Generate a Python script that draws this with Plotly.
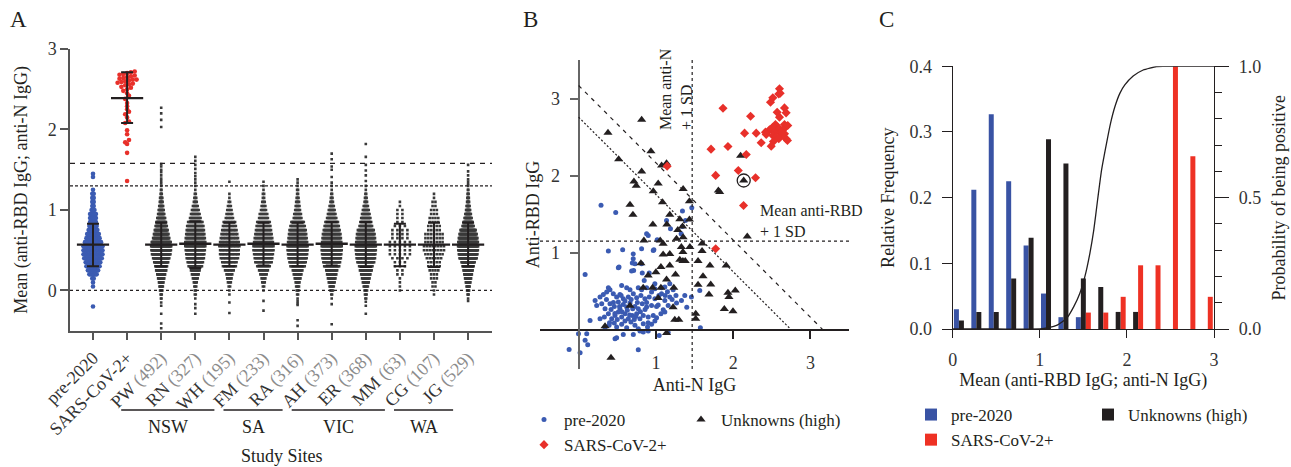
import plotly.graph_objects as go

W, H = 1291, 467
FONT = "Liberation Serif"
INK = "#231f20"
AXC = "#555555"
BLUE = "#3b5bb2"
RED = "#e8302a"
BAR_BLUE = "#3953a4"
BAR_RED = "#ee3124"
GRAY_TXT = "#8c8c8c"

# ---------------- Panel A data ----------------
A_LABELS = ["pre-2020", "SARS-CoV-2+", "PW", "RN", "WH", "FM", "RA", "AH", "ER", "MM", "CG", "JG"]
A_N_LABEL = ["", "", "492", "327", "195", "233", "316", "373", "368", "63", "107", "529"]
A_STATES = ["NSW", "SA", "VIC", "WA"]
A_STATE_FIRST = ["PW", "FM", "AH", "CG"]
A_STATE_LAST = ["WH", "RA", "MM", "JG"]
A_YTITLE = "Mean (anti-RBD IgG; anti-N IgG)"

# binned counts: bins start at -0.10, width 0.05 (28 bins, up to 1.25) + individual tail values
CORE_START = -0.10
CORE_STEP = 0.05
PRE2020_CORE = [0, 0, 0, 1, 1, 2, 6, 8, 10, 11, 13, 14, 14, 14, 12, 10, 9, 7, 6, 5, 5, 5, 3, 2, 2, 2, 2, 1]
PRE2020_OUT = [-0.20, 1.41, 1.45]
SARS_VALUES = [1.36, 1.71, 1.82, 1.84, 1.87, 1.94, 1.99, 2.08, 2.10, 2.15, 2.19, 2.22, 2.25, 2.29,
               2.33, 2.38, 2.42, 2.45, 2.48, 2.50, 2.52, 2.53, 2.55, 2.56, 2.57, 2.58, 2.59, 2.60,
               2.61, 2.62, 2.62, 2.63, 2.64, 2.65, 2.66, 2.67, 2.68, 2.69, 2.70, 2.71, 2.72]
PW_CORE = [2, 3, 5, 7, 9, 12, 15, 19, 22, 26, 30, 34, 36, 37, 35, 30, 27, 24, 21, 18, 15, 12, 10, 8, 6, 5, 3, 2]
PW_OUT = [-0.47, -0.41, -0.29, -0.19, -0.15, 1.30, 1.33, 1.36, 1.39, 1.43, 1.47, 1.50, 1.54, 1.57,
          2.03, 2.12, 2.20, 2.27]
RN_CORE = [1, 2, 2, 3, 4, 6, 8, 10, 15, 17, 19, 20, 21, 22, 22, 21, 20, 19, 18, 16, 12, 10, 8, 6, 4, 3, 2, 1]
RN_OUT = [-0.29, -0.22, -0.17, 1.30, 1.34, 1.38, 1.42, 1.46, 1.51, 1.56, 1.61, 1.66]
WH_CORE = [0, 1, 1, 2, 3, 4, 5, 7, 10, 11, 13, 14, 14, 15, 14, 13, 12, 11, 10, 9, 6, 5, 4, 3, 2, 1, 1, 0]
WH_OUT = [-0.28, -0.15, 1.35]
FM_CORE = [0, 0, 1, 2, 3, 4, 6, 8, 11, 14, 15, 16, 17, 17, 16, 15, 14, 13, 12, 11, 8, 7, 5, 4, 3, 2, 2, 1]
FM_OUT = [-0.25, -0.13, 1.30, 1.35]
RA_CORE = [1, 2, 3, 4, 5, 7, 9, 11, 16, 18, 20, 21, 22, 22, 21, 20, 19, 18, 16, 14, 9, 8, 6, 5, 4, 3, 2, 2]
RA_OUT = [-0.44, -0.37, -0.18, -0.16, -0.13, 1.30, 1.34, 1.38]
AH_CORE = [1, 2, 4, 6, 8, 10, 12, 14, 19, 21, 23, 24, 25, 25, 24, 23, 22, 20, 18, 16, 12, 10, 8, 6, 4, 3, 2, 1]
AH_OUT = [-0.42, -0.17, 1.30, 1.34, 1.41, 1.50, 1.54, 1.63, 1.70]
ER_CORE = [2, 3, 4, 6, 8, 10, 12, 15, 17, 21, 23, 24, 25, 25, 24, 23, 22, 20, 16, 14, 12, 10, 8, 6, 4, 3, 2, 1]
ER_OUT = [-0.29, -0.19, -0.14, 1.30, 1.36, 1.43, 1.49, 1.56, 1.66, 1.82]
MM_CORE = [0, 0, 1, 1, 1, 1, 2, 2, 3, 3, 4, 5, 5, 5, 5, 4, 4, 4, 3, 2, 2, 2, 2, 1, 1, 0, 0, 0]
MM_OUT = []
CG_CORE = [0, 1, 1, 2, 2, 3, 3, 4, 5, 5, 6, 7, 8, 8, 7, 7, 7, 5, 5, 4, 4, 3, 3, 2, 2, 1, 1, 0]
CG_OUT = []
JG_CORE = [1, 3, 5, 7, 10, 13, 16, 19, 23, 27, 35, 38, 40, 41, 40, 38, 35, 31, 23, 19, 15, 12, 9, 7, 5, 4, 3, 2]
JG_OUT = [-0.13, 1.30, 1.32, 1.35, 1.38, 1.43, 1.48, 1.56]

A_MEAN = [0.57, 2.39, 0.57, 0.58, 0.57, 0.58, 0.57, 0.58, 0.57, 0.57, 0.57, 0.57]
A_SD_LO = [0.30, 2.08, 0.30, 0.28, 0.30, 0.31, 0.30, 0.31, 0.29, 0.30, 0.29, 0.30]
A_SD_HI = [0.83, 2.71, 0.84, 0.86, 0.84, 0.84, 0.84, 0.85, 0.85, 0.83, 0.84, 0.84]
A_CUT_LOW = 1.30
A_CUT_HIGH = 1.58

# ---------------- Panel B data ----------------
B_PRE_X = [0.29, 0.48, 1.344, 1.465, 1.383, 1.138, 1.189, 1.327, 1.344, 0.901, 1.017, 0.974, 0.815, 0.707,
           0.385, 0.57, 0.88, 0.084, 0.523, 0.729, 0.707, 0.966, 0.695, 0.712, 0.686, 0.815, 0.824, 0.914,
           0.849, 0.987, 1.116, 1.18, 0.944, 1.073, 1.374, 1.46, 1.331, 1.568, 1.576, 0.514,
           0.385, 0.406, 0.363, 0.557, 0.622, 0.665, 0.772, 0.815, 0.88, 0.987, 1.073, 1.15, 1.224,
           0.213, 0.277, 0.32, 0.449, 0.492, 0.535, 0.578, 0.643, 0.708, 0.751, 0.806, 0.858, 0.914, 0.987,
           1.039, 1.116, 1.18, 1.26,
           0.234, 0.299, 0.342, 0.406, 0.462, 0.514, 0.535, 0.578, 0.622, 0.665, 0.729, 0.772, 0.824, 0.88,
           0.944, 1.009, 1.095, 1.159, 1.267, 1.40,
           0.148, 0.277, 0.333, 0.385, 0.428, 0.471, 0.514, 0.557, 0.6, 0.643, 0.695, 0.751, 0.794, 0.837,
           0.901, 0.966, 1.009, 1.065, 1.116,
           0.342, 0.394, 0.462, 0.492, 0.557, 0.622, 0.677, 0.729, 0.772, 0.837, 0.892, 0.944, 0.987, 0.794,
           0.837, 0.901,
           -0.002, 0.105, 0.084, 0.118, -0.123, 0.019, 0.471, 0.492, 0.578, 0.708, 0.772, 1.043, 1.159,
           0.36, 0.42, 0.45, 0.50, 0.53, 0.56, 0.60, 0.63, 0.66, 0.70, 0.72, 0.76, 0.80, 0.86, 0.90, 0.60,
           0.68, 0.55, 0.47, 0.74, 0.40, 0.88, 1.03, 1.12, 1.21]
B_PRE_Y = [1.62, 1.527, 1.544, 1.587, 1.423, 1.423, 1.315, 1.25, 1.345, 1.229, 1.173, 1.044, 1.056, 0.99,
           1.026, 1.044, 1.25, 0.724, 0.82, 0.862, 0.927, 1.035, 0.871, 0.776, 0.768, 0.862, 0.742, 0.742,
           0.647, 0.604, 0.56, 0.604, 0.496, 0.474, 0.453, 0.431, 0.388, 0.517, 0.034, 0.81,
           0.552, 0.526, 0.496, 0.582, 0.552, 0.526, 0.552, 0.526, 0.552, 0.539, 0.552, 0.50, 0.526,
           0.388, 0.431, 0.466, 0.474, 0.431, 0.466, 0.41, 0.431, 0.474, 0.423, 0.453, 0.41, 0.431, 0.41,
           0.453, 0.388, 0.431, 0.45,
           0.323, 0.345, 0.28, 0.345, 0.31, 0.367, 0.28, 0.336, 0.302, 0.354, 0.31, 0.28, 0.345, 0.302,
           0.323, 0.31, 0.267, 0.323, 0.354, 0.30,
           0.129, 0.151, 0.172, 0.216, 0.151, 0.194, 0.237, 0.172, 0.216, 0.151, 0.194, 0.216, 0.151, 0.194,
           0.172, 0.194, 0.164, 0.216, 0.237,
           0.034, 0.065, 0.095, 0.043, 0.078, 0.034, 0.108, 0.065, 0.022, 0.086, 0.043, 0.078, 0.121, -0.009,
           -0.022, -0.009,
           -0.043, -0.043, -0.129, -0.185, -0.246, -0.289, -0.108, -0.095, -0.052, -0.052, -0.25, -0.065, -0.026,
           0.40, 0.27, 0.36, 0.14, 0.31, 0.24, 0.12, 0.26, 0.20, 0.28, 0.14, 0.36, 0.24, 0.27, 0.10, 0.38,
           0.40, 0.45, 0.22, 0.18, 0.10, 0.36, 0.33, 0.45, 0.40]
B_POS_X = [2.60, 2.609, 2.591, 2.514, 2.484, 1.869, 2.665, 2.686, 2.57, 2.226, 2.60, 2.548, 2.565, 2.514,
           2.493, 2.471, 2.578, 2.60, 2.665, 2.686, 2.707, 2.643, 2.621, 2.535, 2.419, 2.428, 2.514, 2.557,
           2.60, 2.665, 2.686, 2.703, 2.591, 2.522, 2.363, 2.493, 2.299, 2.148, 1.933, 1.714, 2.17, 2.067,
           2.29, 1.774, 2.135, 1.146, 1.774]
B_POS_Y = [3.127, 3.07, 3.06, 3.01, 2.953, 2.876, 2.88, 2.816, 2.824, 2.772, 2.76, 2.665, 2.639, 2.63,
           2.609, 2.596, 2.587, 2.609, 2.665, 2.639, 2.652, 2.596, 2.566, 2.566, 2.566, 2.536, 2.523, 2.501,
           2.501, 2.544, 2.48, 2.458, 2.48, 2.445, 2.428, 2.385, 2.553, 2.553, 2.38, 2.346, 2.277, 2.07,
           1.976, 2.006, 1.617, 2.126, 1.057]
B_UNK_X = [0.816, 0.38, 0.936, 0.518, 1.074, 1.138, 0.816, 0.716, 0.746, 1.03, 0.966, 1.353, 1.434, 1.086,
           0.665, 0.703, 1.18, 1.31, 1.434, 1.345, 0.961, 1.142, 1.284, 1.353, 0.845, 1.056, 1.094, 1.267,
           1.44, 1.33, 1.598, 2.183, 1.094, 1.18, 1.35, 1.31, 1.35, 1.38, 1.546, 1.598, 0.806, 1.18, 1.065,
           1.70, 1.91, 1.0, 0.90, 1.254, 1.138, 1.61, 0.836, 0.957, 1.065, 1.232, 1.546, 1.71, 1.688, 1.933,
           1.946, 2.028, 1.03, 1.223, 0.665, 1.516, 1.886, 1.998, 1.245, 1.297, 1.516, 0.342, 1.138, 0.419,
           2.097, 2.137, 1.809, 1.826]
B_UNK_Y = [2.725, 2.557, 2.32, 2.216, 2.135, 2.165, 2.057, 1.928, 1.872, 1.90, 1.80, 1.83, 1.67, 1.66,
           1.626, 1.497, 1.497, 1.44, 1.436, 1.345, 1.371, 1.371, 1.30, 1.207, 1.164, 1.164, 1.12, 1.186,
           1.08, 1.078, 1.125, 1.216, 0.983, 0.99, 1.013, 0.915, 0.897, 0.897, 0.897, 1.026, 0.87, 0.84, 0.82,
           0.84, 0.84, 0.754, 0.71, 0.724, 0.66, 0.70, 0.552, 0.552, 0.552, 0.552, 0.59, 0.595, 0.466, 0.487,
           0.431, 0.517, 0.418, 0.30, 0.32, 0.215, 0.276, 0.246, 0.138, 0.138, 0.15, 0.052, -0.035, -0.353,
           2.26, 1.94, 1.81, 1.79]
B_CIRCLED = 73          # index of the highlighted unknown
B_ANTI_N_CUT = 1.47     # mean anti-N + 1 SD
B_ANTI_RBD_CUT = 1.155  # mean anti-RBD + 1 SD
B_DIAG_INNER = 2.76     # x + y = const
B_DIAG_OUTER = 3.17

# ---------------- Panel C data ----------------
C_BINS = [0.1, 0.3, 0.5, 0.7, 0.9, 1.1, 1.3, 1.5, 1.7, 1.9, 2.1, 2.3, 2.5, 2.7, 2.9]
C_PRE = [0.030, 0.212, 0.327, 0.225, 0.127, 0.054, 0.018, 0.018, 0, 0, 0, 0, 0, 0, 0]
C_UNK = [0.013, 0.026, 0.026, 0.077, 0.139, 0.289, 0.252, 0.077, 0.064, 0.026, 0.026, 0, 0, 0, 0]
C_POS = [0, 0, 0, 0, 0, 0, 0, 0.025, 0.025, 0.049, 0.097, 0.097, 0.400, 0.263, 0.049]
C_CURVE_X = [0, 0.5, 1.0, 1.1, 1.2, 1.307, 1.39, 1.46, 1.518, 1.575, 1.62, 1.663, 1.709, 1.766, 1.812,
             1.862, 1.919, 1.976, 2.072, 2.187, 2.34, 2.42, 3.0]
C_CURVE_P = [0, 0, 0.0, 0.005, 0.015, 0.04, 0.085, 0.136, 0.2, 0.288, 0.377, 0.49, 0.605, 0.707, 0.783,
             0.846, 0.897, 0.929, 0.963, 0.986, 0.999, 1.0, 1.0]

# ---------------- layout geometry (pixels) ----------------
A_X0, A_X1, A_Y0, A_Y1 = 70, 492, 49, 330.7
A_PX_PER_CAT = 34.1
A_XR = [-(93 - A_X0) / A_PX_PER_CAT, (A_X1 - 93) / A_PX_PER_CAT]
B_X0, B_X1, B_Y0, B_Y1 = 540, 849, 60, 369
C_X0, C_X1, C_Y0, C_Y1 = 952.7, 1214, 66.3, 329


def xd(a, b):
    return [a / W, b / W]


def yd(top, bottom):
    return [(H - bottom) / H, (H - top) / H]


def expand(core, tail):
    vals = []
    for i, c in enumerate(core):
        vals += [round(CORE_START + i * CORE_STEP, 3)] * c
    return vals + list(tail)


def swarm(values, row, half_px, cap_px):
    rows = {}
    for v in sorted(values):
        rows.setdefault(round(v / row), []).append(v)
    widest = max(len(r) for r in rows.values())
    sp = min(cap_px, 2 * half_px / max(widest - 1, 1))
    dx, ys = [], []
    for vs in rows.values():
        n = len(vs)
        for k, v in enumerate(vs):
            dx.append((k - (n - 1) / 2) * sp / A_PX_PER_CAT)
            ys.append(v)
    return dx, ys


fig = go.Figure()

# ---- Panel A swarms ----
site_data = [(PW_CORE, PW_OUT), (RN_CORE, RN_OUT), (WH_CORE, WH_OUT), (FM_CORE, FM_OUT), (RA_CORE, RA_OUT),
             (AH_CORE, AH_OUT), (ER_CORE, ER_OUT), (MM_CORE, MM_OUT), (CG_CORE, CG_OUT), (JG_CORE, JG_OUT)]
for i, (core, tail) in enumerate(site_data):
    dx, ys = swarm(expand(core, tail), 0.025, 10, 5.5)
    fig.add_trace(go.Scatter(x=[i + 2 + d for d in dx], y=ys, mode="markers",
                             marker=dict(symbol="square", size=2.6, color="#3a3a3a", line=dict(width=0)),
                             xaxis="x", yaxis="y", showlegend=False, hoverinfo="skip"))
dx, ys = swarm(expand(PRE2020_CORE, PRE2020_OUT), 0.025, 9.5, 4)
fig.add_trace(go.Scatter(x=[0 + d for d in dx], y=ys, mode="markers",
                         marker=dict(size=4.6, color=BLUE, line=dict(width=0)),
                         xaxis="x", yaxis="y", showlegend=False, hoverinfo="skip"))
dx, ys = swarm(SARS_VALUES, 0.05, 9.5, 4.5)
fig.add_trace(go.Scatter(x=[1 + d for d in dx], y=ys, mode="markers",
                         marker=dict(size=4.6, color=RED, line=dict(width=0)),
                         xaxis="x", yaxis="y", showlegend=False, hoverinfo="skip"))
fig.add_trace(go.Scatter(
    x=list(range(len(A_LABELS))), y=A_MEAN, mode="markers",
    marker=dict(symbol="line-ew", size=23, line=dict(width=2.4, color=INK)),
    error_y=dict(type="data", symmetric=False,
                 array=[h - m for h, m in zip(A_SD_HI, A_MEAN)],
                 arrayminus=[m - l for m, l in zip(A_MEAN, A_SD_LO)],
                 thickness=2, width=6, color=INK),
    xaxis="x", yaxis="y", showlegend=False, hoverinfo="skip"))

# ---- Panel B ----
fig.add_trace(go.Scatter(x=B_PRE_X, y=B_PRE_Y, mode="markers", name="pre-2020",
                         marker=dict(size=5, color=BLUE, line=dict(width=0)),
                         xaxis="x2", yaxis="y2", legend="legend2"))
fig.add_trace(go.Scatter(x=B_UNK_X, y=B_UNK_Y, mode="markers", name="Unknowns (high)",
                         marker=dict(symbol="triangle-up", size=8, color=INK, line=dict(width=0)),
                         xaxis="x2", yaxis="y2", legend="legend4"))
fig.add_trace(go.Scatter(x=B_POS_X, y=B_POS_Y, mode="markers", name="SARS-CoV-2+",
                         marker=dict(symbol="diamond", size=7, color=RED, line=dict(width=0)),
                         xaxis="x2", yaxis="y2", legend="legend2"))

# ---- Panel C ----
fig.add_trace(go.Bar(x=C_BINS, y=C_PRE, name="pre-2020", marker=dict(color=BAR_BLUE, line=dict(width=0)),
                     xaxis="x3", yaxis="y3", legend="legend3"))
fig.add_trace(go.Bar(x=C_BINS, y=C_UNK, name="Unknowns (high)", marker=dict(color=INK, line=dict(width=0)),
                     xaxis="x3", yaxis="y3", legend="legend5"))
fig.add_trace(go.Bar(x=C_BINS, y=C_POS, name="SARS-CoV-2+", marker=dict(color=BAR_RED, line=dict(width=0)),
                     xaxis="x3", yaxis="y3", legend="legend3"))
fig.add_trace(go.Scatter(x=C_CURVE_X, y=C_CURVE_P, mode="lines", line=dict(color=INK, width=1.3, shape="spline", smoothing=0.5),
                         xaxis="x3", yaxis="y4", showlegend=False, hoverinfo="skip"))

tickfont = dict(family=FONT, size=18, color="#333333")
titlefont = dict(family=FONT, size=18, color=INK)
legfont = dict(family=FONT, size=17, color=INK)

a_ticktext = []
for lab, n in zip(A_LABELS, A_N_LABEL):
    a_ticktext.append(lab if not n else f"{lab} <span style='color:{GRAY_TXT}'>({n})</span>")

bxd = xd(B_X0, B_X1)
byd = yd(B_Y0, B_Y1)
b_xpos = bxd[0] + 0.5 / 4.0 * (bxd[1] - bxd[0])
b_ypos = byd[0] + 0.5 / 4.0 * (byd[1] - byd[0])

common = dict(showgrid=False, zeroline=False, ticks="outside", tickfont=tickfont, automargin=False)


def legend_at(px, top):
    return dict(x=px / W, y=(H - top) / H, xanchor="left", yanchor="top", orientation="v",
                font=legfont, bgcolor="rgba(0,0,0,0)", itemwidth=30, tracegroupgap=0)


fig.update_layout(
    width=W, height=H, margin=dict(l=0, r=0, t=0, b=0, autoexpand=False),
    paper_bgcolor="white", plot_bgcolor="white",
    font=dict(family=FONT, color=INK),
    showlegend=True, barmode="group", bargap=0.14, bargroupgap=0,
    xaxis=dict(domain=xd(A_X0, A_X1), range=A_XR, anchor="y", tickmode="array",
               tickvals=list(range(len(A_LABELS))), ticktext=a_ticktext, tickangle=-45,
               ticklen=8, tickwidth=1.5, tickcolor=AXC, showline=True, linecolor=AXC, linewidth=1.5, **common),
    yaxis=dict(domain=yd(A_Y0, A_Y1), range=[-0.5, 3], anchor="x", tickvals=[0, 1, 2, 3],
               ticklen=8, tickwidth=1.5, tickcolor=AXC, showline=True, linecolor=AXC, linewidth=1.5,
               ticklabelstandoff=0, **common),
    xaxis2=dict(domain=bxd, range=[-0.5, 3.5], anchor="free", position=b_ypos, tickvals=[1, 2, 3],
                ticklen=8, tickwidth=1.5, tickcolor=INK, showline=True, linecolor=INK, linewidth=1.5,
                ticklabelstandoff=8,
                title=dict(text="Anti-N IgG", font=titlefont, standoff=6), **common),
    yaxis2=dict(domain=byd, range=[-0.5, 3.5], anchor="free", position=b_xpos, tickvals=[1, 2, 3],
                ticklen=8, tickwidth=1.5, tickcolor="#666666", showline=True, linecolor="#666666", linewidth=2,
                ticklabelstandoff=6,
                title=dict(text="Anti-RBD IgG", font=titlefont, standoff=6), **common),
    xaxis3=dict(domain=xd(C_X0, C_X1), range=[0, 3], anchor="y3", tickvals=[0, 1, 2, 3],
                ticklen=8, tickwidth=1.3, tickcolor=INK, showline=True, linecolor=INK, linewidth=1.3,
                ticklabelstandoff=6,
                title=dict(text="Mean (anti-RBD IgG; anti-N IgG)", font=titlefont, standoff=0), **common),
    yaxis3=dict(domain=yd(C_Y0, C_Y1), range=[0, 0.4], anchor="x3", tickvals=[0, 0.1, 0.2, 0.3, 0.4],
                tickformat=".1f", ticklen=10, tickwidth=1.3, tickcolor=INK, showline=True, linecolor=INK,
                linewidth=1.3, ticklabelstandoff=6,
                title=dict(text="Relative Frequency", font=titlefont, standoff=10), **common),
    yaxis4=dict(domain=yd(C_Y0, C_Y1), range=[0, 1], anchor="x3", overlaying="y3", side="right",
                tickvals=[0, 0.5, 1.0], tickformat=".1f", ticklen=14, tickwidth=1.3, tickcolor=INK,
                minor=dict(dtick=0.1, ticklen=7, tickwidth=1.3, tickcolor=INK, ticks="outside"),
                showline=True, linecolor=INK, linewidth=1.3, ticklabelstandoff=6,
                title=dict(text="Probability of being positive", font=titlefont, standoff=12), **common),
    legend2=legend_at(524, 402),
    legend4=legend_at(681, 402),
    legend3=legend_at(911, 397),
    legend5=legend_at(1088, 397),
)

shapes = []
# Panel A reference lines
shapes.append(dict(type="line", xref="x domain", yref="y", x0=0, x1=1, y0=0, y1=0,
                   line=dict(color=INK, width=1.3, dash="dot")))
shapes.append(dict(type="line", xref="x domain", yref="y", x0=0, x1=1, y0=A_CUT_LOW, y1=A_CUT_LOW,
                   line=dict(color=INK, width=1.3, dash="3px,2px")))
shapes.append(dict(type="line", xref="x domain", yref="y", x0=0, x1=1, y0=A_CUT_HIGH, y1=A_CUT_HIGH,
                   line=dict(color=INK, width=1.3, dash="5px,5px")))
annotations = []
# Panel A y-axis title
annotations.append(dict(text=A_YTITLE, x=22 / W, y=(H - (A_Y0 + A_Y1) / 2) / H, xref="paper", yref="paper",
                        showarrow=False, textangle=-90, xanchor="center", yanchor="middle", font=titlefont))
# Panel A state groups
grp_line_y = (H - 410) / H
grp_text_y = (H - 427) / H
line_starts, line_ends = [], []
for st, first, last in zip(A_STATES, A_STATE_FIRST, A_STATE_LAST):
    i0 = A_LABELS.index(first) - 40 / A_PX_PER_CAT
    i1 = A_LABELS.index(last) - 15 / A_PX_PER_CAT
    line_starts.append(i0)
    line_ends.append(i1)
    shapes.append(dict(type="line", xref="x", yref="paper", x0=i0, x1=i1, y0=grp_line_y, y1=grp_line_y,
                       line=dict(color=INK, width=1.3)))
    annotations.append(dict(text=st, x=(i0 + i1) / 2, y=grp_text_y, xref="x", yref="paper", showarrow=False,
                            xanchor="center", yanchor="middle", font=titlefont))
annotations.append(dict(text="Study Sites", x=(line_starts[0] + line_ends[-1]) / 2 - 0.15, y=(H - 456) / H,
                        xref="x", yref="paper", showarrow=False, xanchor="center", yanchor="middle",
                        font=titlefont))

# Panel B reference lines
shapes.append(dict(type="line", xref="x2", yref="y2 domain", x0=B_ANTI_N_CUT, x1=B_ANTI_N_CUT, y0=0, y1=1,
                   line=dict(color=INK, width=1.2, dash="dot")))
shapes.append(dict(type="line", xref="x2 domain", yref="y2", x0=0, x1=1, y0=B_ANTI_RBD_CUT, y1=B_ANTI_RBD_CUT,
                   line=dict(color=INK, width=1.2, dash="dot")))
shapes.append(dict(type="line", xref="x2", yref="y2", x0=0, y0=B_DIAG_INNER, x1=B_DIAG_INNER, y1=0,
                   line=dict(color=INK, width=1.2, dash="2px,2px")))
shapes.append(dict(type="line", xref="x2", yref="y2", x0=0, y0=B_DIAG_OUTER, x1=B_DIAG_OUTER, y1=0,
                   line=dict(color=INK, width=1.2, dash="4px,5px")))
r = 6.5 / 77.25
cx, cy = B_UNK_X[B_CIRCLED], B_UNK_Y[B_CIRCLED]
shapes.append(dict(type="circle", xref="x2", yref="y2", x0=cx - r, x1=cx + r, y0=cy - r, y1=cy + r,
                   line=dict(color=INK, width=1.3)))
annotations.append(dict(text="Mean anti-N<br>+ 1 SD", x=B_ANTI_N_CUT - 0.20, y=3.12, xref="x2", yref="y2",
                        showarrow=False, textangle=-90, align="left", xanchor="center", yanchor="middle",
                        font=dict(family=FONT, size=16, color=INK)))
annotations.append(dict(text="Mean anti-RBD<br>+ 1 SD", x=2.317, y=1.41, xref="x2", yref="y2",
                        showarrow=False, align="left", xanchor="left", yanchor="middle",
                        font=dict(family=FONT, size=16, color=INK)))

# Panel letters
for letter, px in (("A", 18), ("B", 530), ("C", 886)):
    annotations.append(dict(text=letter, x=px / W, y=(H - 20) / H, xref="paper", yref="paper",
                            showarrow=False, xanchor="center", yanchor="middle",
                            font=dict(family=FONT, size=23, color=INK)))

fig.update_layout(shapes=shapes, annotations=annotations)
# the page's default 8px body margin would shift the figure out of the window
fig.write_html("out.html", config={"displayModeBar": False},
               post_script="document.body.style.margin='0';document.body.style.overflow='hidden';")
